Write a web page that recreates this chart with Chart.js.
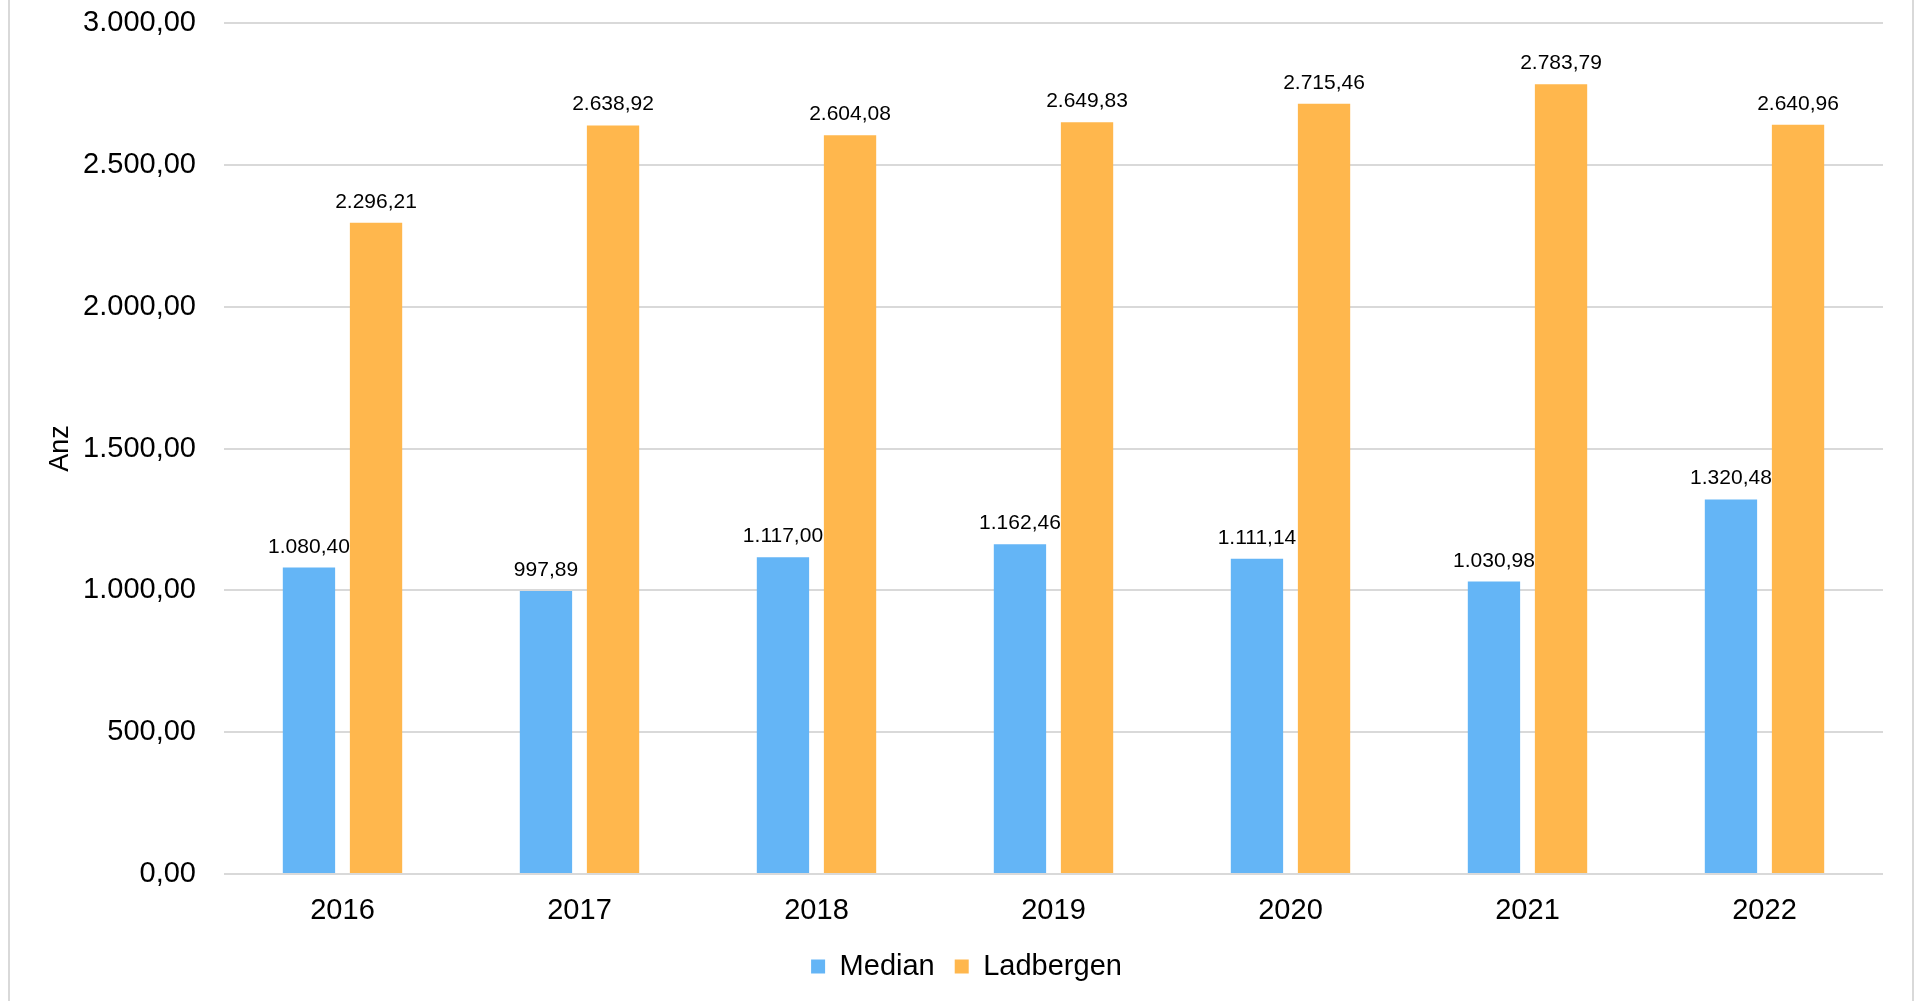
<!DOCTYPE html>
<html lang="de">
<head>
<meta charset="UTF-8">
<title>Median / Ladbergen</title>
<script src="https://cdn.jsdelivr.net/npm/chart.js"></script>
<style>
    html, body { margin: 0; padding: 0; background: #fff; }
    #wrap { width: 1921px; height: 1001px; position: relative; }
</style>
</head>
<body>
<div id="wrap"><canvas id="chart"></canvas></div>
<script>
    // chart data
    const years = ['2016', '2017', '2018', '2019', '2020', '2021', '2022'];
    const medianValues = [1080.40, 997.89, 1117.00, 1162.46, 1111.14, 1030.98, 1320.48];
    const ladbergenValues = [2296.21, 2638.92, 2604.08, 2649.83, 2715.46, 2783.79, 2640.96];
    const yTicks = [0, 500, 1000, 1500, 2000, 2500, 3000];

    const FONT = "'Liberation Sans', Arial, sans-serif";

    // German number format: 2.296,21
    function fmt(v) {
        let parts = v.toFixed(2).split('.');
        let int = parts[0].replace(/\B(?=(\d{3})+(?!\d))/g, '.');
        return int + ',' + parts[1];
    }

    // value labels above the bars
    const valueLabels = {
        id: 'valueLabels',
        afterDatasetsDraw(chart) {
            const ctx = chart.ctx;
            ctx.save();
            ctx.font = '21px ' + FONT;
            ctx.fillStyle = '#000';
            ctx.textAlign = 'center';
            ctx.textBaseline = 'alphabetic';
            chart.data.datasets.forEach((ds, i) => {
                chart.getDatasetMeta(i).data.forEach((bar, j) => {
                    ctx.fillText(fmt(ds.data[j]), bar.x, bar.y - 15);
                });
            });
            ctx.restore();
        }
    };

    // thin frame lines at the left and right edge, legend nudged right
    const frame = {
        id: 'frame',
        afterLayout(chart) {
            chart.legend.left += 20;
            chart.legend.right += 20;
        },
        beforeDraw(chart) {
            const ctx = chart.ctx;
            ctx.save();
            ctx.strokeStyle = '#d9d9d9';
            ctx.lineWidth = 2;
            ctx.beginPath();
            ctx.moveTo(9, 0); ctx.lineTo(9, chart.height);
            ctx.moveTo(1913, 0); ctx.lineTo(1913, chart.height);
            ctx.stroke();
            ctx.restore();
        }
    };

    new Chart(document.getElementById('chart'), {
        type: 'bar',
        data: {
            labels: years,
            datasets: [
                {
                    label: 'Median',
                    data: medianValues,
                    backgroundColor: '#64b5f6',
                    barPercentage: 0.78,
                    categoryPercentage: 0.566
                },
                {
                    label: 'Ladbergen',
                    data: ladbergenValues,
                    backgroundColor: '#ffb74d',
                    barPercentage: 0.78,
                    categoryPercentage: 0.566
                }
            ]
        },
        options: {
            responsive: true,
            maintainAspectRatio: false,
            animation: false,
            layout: {
                padding: { left: 10, right: 38, top: 23, bottom: 10 }
            },
            scales: {
                x: {
                    grid: { display: false, drawTicks: false },
                    border: { display: false },
                    ticks: {
                        color: '#000',
                        font: { family: FONT, size: 29 },
                        padding: 20
                    },
                    afterFit(scale) { scale.height = 58; }
                },
                y: {
                    min: 0,
                    max: 3000,
                    afterBuildTicks(scale) {
                        scale.ticks = yTicks.map(v => ({ value: v }));
                    },
                    grid: { color: '#d9d9d9', lineWidth: 2, drawTicks: false },
                    border: { display: false },
                    ticks: {
                        color: '#000',
                        font: { family: FONT, size: 29 },
                        padding: 28,
                        callback: v => fmt(v)
                    },
                    title: {
                        display: true,
                        text: 'Anz',
                        color: '#000',
                        font: { family: FONT, size: 27 },
                        padding: { top: 34, bottom: 0 }
                    },
                    afterFit(scale) {
                        scale.width = 214;
                        scale.paddingTop = 0;
                        scale.paddingBottom = 0;
                    }
                }
            },
            plugins: {
                legend: {
                    position: 'bottom',
                    labels: {
                        color: '#000',
                        font: { family: FONT, size: 29 },
                        boxWidth: 14,
                        boxHeight: 14,
                        padding: 20
                    }
                },
                tooltip: { enabled: false }
            }
        },
        plugins: [valueLabels, frame]
    });
</script>
</body>
</html>
